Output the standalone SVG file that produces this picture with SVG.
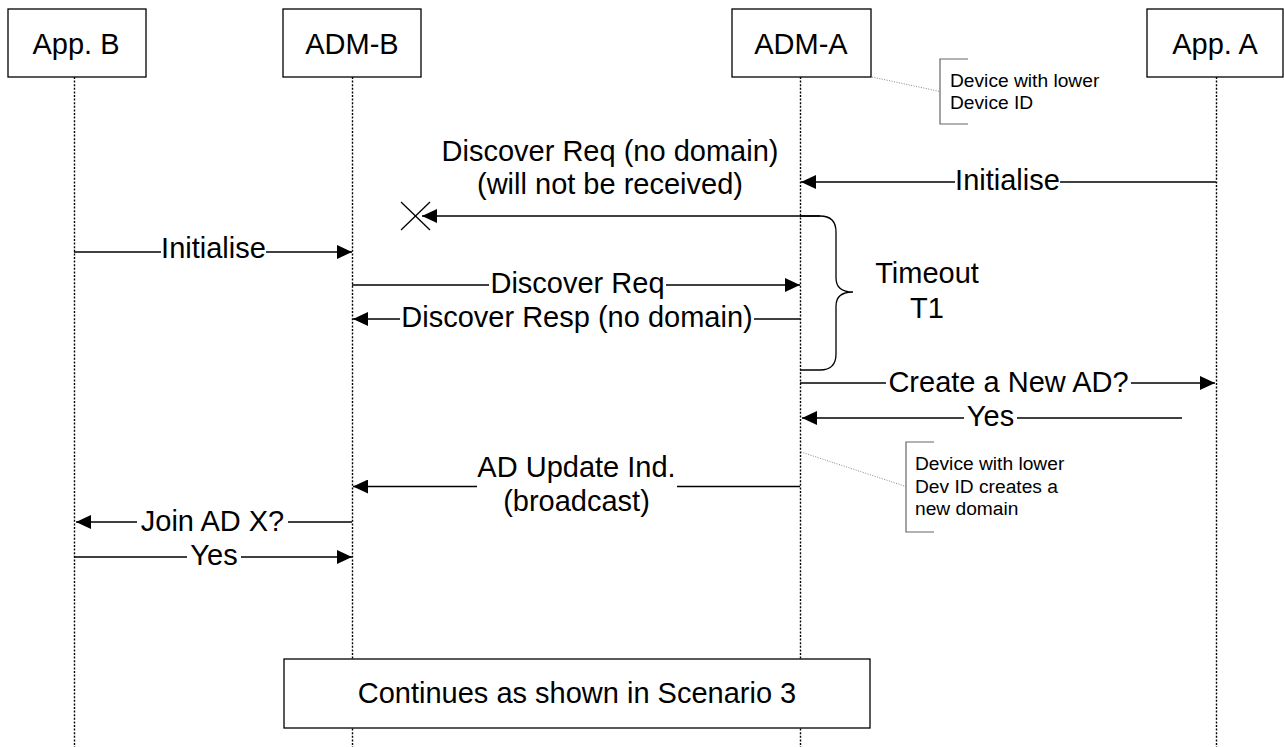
<svg xmlns="http://www.w3.org/2000/svg" width="1284" height="747" viewBox="0 0 1284 747">
<style>
  .box { fill: #fff; stroke: #000; stroke-width: 1.3; }
  .life { stroke: #000; stroke-width: 1.4; stroke-dasharray: 2 1.6; fill: none; }
  .msg { stroke: #000; stroke-width: 1.3; fill: none; }
  .lbl { font-family: "Liberation Sans", Arial, sans-serif; font-size: 29px; fill: #000; text-anchor: middle; }
  .note { font-family: "Liberation Sans", Arial, sans-serif; font-size: 19.2px; fill: #000; }
  .brk { stroke: #666; stroke-width: 1.2; fill: none; }
  .lead { stroke: #777; stroke-width: 0.9; stroke-dasharray: 1 1.5; fill: none; }
</style>
<defs>
  <marker id="ah" markerUnits="userSpaceOnUse" markerWidth="15" markerHeight="14" refX="15" refY="7" orient="auto">
    <path d="M0,0 L15,7 L0,14 z" fill="#000"/>
  </marker>
</defs>
<rect width="1284" height="747" fill="#fff"/>

<g id="lifelines">
  <line class="life" x1="74.5" y1="77" x2="74.5" y2="747"/>
  <line class="life" x1="352.5" y1="77" x2="352.5" y2="747"/>
  <line class="life" x1="800.5" y1="77" x2="800.5" y2="747"/>
  <line class="life" x1="1216.5" y1="77" x2="1216.5" y2="747"/>
</g>

<g id="appB">
  <rect class="box" x="8" y="9" width="138" height="68"/>
  <text class="lbl" x="76" y="53.5">App. B</text>
</g>
<g id="admB">
  <rect class="box" x="283" y="9" width="138" height="68"/>
  <text class="lbl" x="352" y="53.5">ADM-B</text>
</g>
<g id="admA">
  <rect class="box" x="732" y="9" width="139" height="68"/>
  <text class="lbl" x="801" y="53.5">ADM-A</text>
</g>
<g id="appA">
  <rect class="box" x="1147" y="9" width="136" height="68"/>
  <text class="lbl" x="1215" y="53.5">App. A</text>
</g>

<g id="note1">
  <line class="lead" x1="872" y1="77" x2="940" y2="91.5"/>
  <path class="brk" d="M968,59 H940 V124 H968"/>
  <text class="note" x="950" y="86.5">Device with lower</text>
  <text class="note" x="950" y="108.5">Device ID</text>
</g>

<g id="note2">
  <line class="lead" x1="801" y1="452" x2="906" y2="486.5"/>
  <path class="brk" d="M934,442 H906 V532 H934"/>
  <text class="note" x="915" y="470">Device with lower</text>
  <text class="note" x="915" y="492.5">Dev ID creates a</text>
  <text class="note" x="915" y="515">new domain</text>
</g>

<g id="timeout">
  <path class="msg" d="M800,216 H820 Q836,216 836,232 V278 Q836,292 853,292 Q836,292 836,306 V354 Q836,370 820,370 H800"/>
  <text class="lbl" x="927" y="283">Timeout</text>
  <text class="lbl" x="927" y="318">T1</text>
</g>

<g id="connectors">
  <line class="msg" x1="1216" y1="182" x2="1060" y2="182"/>
  <line class="msg" x1="955" y1="182" x2="801" y2="182" marker-end="url(#ah)"/>
  <text class="lbl" x="1007.5" y="190">Initialise</text>

  <line class="msg" x1="820" y1="216" x2="422" y2="216" marker-end="url(#ah)"/>
  <line class="msg" x1="401" y1="202" x2="430" y2="230"/>
  <line class="msg" x1="401" y1="230" x2="430" y2="202"/>
  <text class="lbl" x="610" y="161">Discover Req (no domain)</text>
  <text class="lbl" x="610" y="194">(will not be received)</text>

  <line class="msg" x1="74" y1="252" x2="161" y2="252"/>
  <line class="msg" x1="266" y1="252" x2="352" y2="252" marker-end="url(#ah)"/>
  <text class="lbl" x="213.5" y="258">Initialise</text>

  <line class="msg" x1="352" y1="285" x2="489" y2="285"/>
  <line class="msg" x1="666" y1="285" x2="800" y2="285" marker-end="url(#ah)"/>
  <text class="lbl" x="577.5" y="293">Discover Req</text>

  <line class="msg" x1="800" y1="319" x2="754" y2="319"/>
  <line class="msg" x1="400" y1="319" x2="353" y2="319" marker-end="url(#ah)"/>
  <text class="lbl" x="577" y="327">Discover Resp (no domain)</text>

  <line class="msg" x1="800" y1="383" x2="886" y2="383"/>
  <line class="msg" x1="1131" y1="383" x2="1215" y2="383" marker-end="url(#ah)"/>
  <text class="lbl" x="1008.5" y="391.5">Create a New AD?</text>

  <line class="msg" x1="1182" y1="418" x2="1017" y2="418"/>
  <line class="msg" x1="964" y1="418" x2="802" y2="418" marker-end="url(#ah)"/>
  <text class="lbl" x="990.5" y="426">Yes</text>

  <line class="msg" x1="800" y1="486.5" x2="677" y2="486.5"/>
  <line class="msg" x1="477" y1="486.5" x2="353" y2="486.5" marker-end="url(#ah)"/>
  <text class="lbl" x="576.5" y="477">AD Update Ind.</text>
  <text class="lbl" x="576.5" y="511">(broadcast)</text>

  <line class="msg" x1="352" y1="522" x2="288" y2="522"/>
  <line class="msg" x1="137" y1="522" x2="76" y2="522" marker-end="url(#ah)"/>
  <text class="lbl" x="212.5" y="531">Join AD X?</text>

  <line class="msg" x1="74" y1="557" x2="187" y2="557"/>
  <line class="msg" x1="241" y1="557" x2="352" y2="557" marker-end="url(#ah)"/>
  <text class="lbl" x="214" y="565">Yes</text>
</g>

<g id="continues">
  <rect class="box" x="284" y="659" width="586" height="69"/>
  <text class="lbl" x="577" y="703">Continues as shown in Scenario 3</text>
</g>
</svg>
